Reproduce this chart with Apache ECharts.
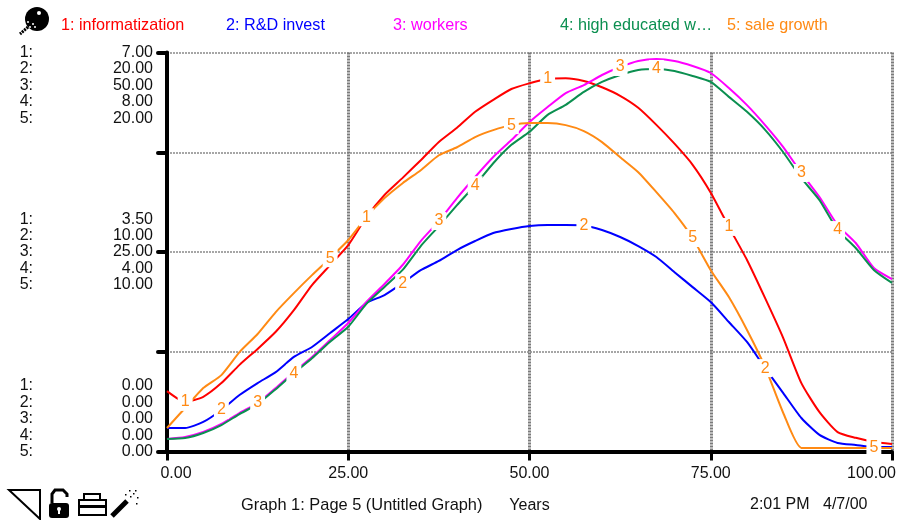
<!DOCTYPE html>
<html><head><meta charset="utf-8">
<style>html,body{margin:0;padding:0;background:#fff}#c{width:898px;height:520px}</style>
<script src="https://cdn.jsdelivr.net/npm/echarts@6/dist/echarts.min.js"></script>
</head><body><div id="c"></div>
<script>
const years=[0,2.5,5,7.5,10,12.5,15,17.5,20,22.5,25,27.5,30,32.5,35,37.5,40,42.5,45,47.5,50,52.5,55,57.5,60,62.5,65,67.5,70,72.5,75,77.5,80,82.5,85,87.5,90,92.5,95,97.5,100];
const informatization=[1.06,.87,.96,1.20,1.52,1.80,2.10,2.48,2.92,3.27,3.62,4.11,4.50,4.80,5.11,5.43,5.68,5.96,6.17,6.36,6.46,6.54,6.55,6.50,6.39,6.24,6.03,5.73,5.40,5.03,4.54,3.94,3.36,2.69,1.99,1.20,.69,.34,.24,.17,.13];
const rdInvest=[1.18,1.18,1.48,2.08,2.83,3.43,3.98,4.74,5.24,5.94,6.64,7.44,7.84,8.44,9.09,9.55,10.10,10.55,10.95,11.15,11.30,11.35,11.35,11.33,11.10,10.75,10.30,9.75,8.99,8.24,7.49,6.49,5.49,4.18,2.93,1.68,.83,.43,.33,.23,.23];
const workers=[1.57,1.82,2.44,3.45,4.82,6.08,7.96,9.96,11.84,13.97,16.10,18.73,20.99,23.37,26.37,28.88,31.76,34.40,36.90,39.03,41.29,43.17,44.92,45.92,47.18,48.18,48.93,49.18,48.93,48.30,47.43,45.55,43.41,40.91,38.15,34.90,31.89,28.38,26.13,22.99,21.61];
const highEducated=[.25,.27,.37,.53,.75,.95,1.25,1.57,1.87,2.20,2.50,2.96,3.30,3.64,4.12,4.52,4.94,5.34,5.78,6.15,6.41,6.75,6.95,7.21,7.41,7.55,7.65,7.67,7.63,7.53,7.41,7.11,6.81,6.45,6.00,5.48,5.04,4.44,4.08,3.64,3.38];
const saleGrowth=[1.18,2.18,3.18,3.83,4.98,5.89,6.99,7.94,8.84,9.69,10.60,11.75,12.70,13.45,14.10,14.85,15.25,15.76,16.11,16.36,16.46,16.46,16.36,16.06,15.51,14.75,14.00,13.00,11.95,10.70,9.09,7.74,6.09,4.23,1.93,.18,.18,.18,.18,.18,.18];
const names=['1: informatization','2: R&D invest','3: workers','4: high educated w\u2026','5: sale growth'];
const colors=['#ff0000','#0000ff','#ff00ff','#0b8f50','#ff8a14'];
const scaleMax=[7,20,50,8,20];
const labelYears=[[2.5,27.5,52.5,77.5],[7.5,32.5,57.5,82.5],[12.5,37.5,62.5,87.5],[17.5,42.5,67.5,92.5],[22.5,47.5,72.5,97.5]];
const legendLeft=[56,221,388,555,722];
const prefixes=['1:','2:','3:','4:','5:'];
const footerLeft='Graph 1: Page 5 (Untitled Graph)';
const footerTime='2:01 PM';
const footerDate='4/7/00';
const seriesValues=[informatization,rdInvest,workers,highEducated,saleGrowth];
const FONT='"Liberation Sans",Arial,sans-serif';
const BLANK=' \n \n \n \n';

function group(lines,f){
  const t=lines.join('\n');
  if(f>.9) return BLANK+t;      // first line sits on the top tick
  if(f<.1) return t+'\n \n \n \n ';  // last line sits on the bottom tick
  return t;
}
const yAxes=scaleMax.map((m,i)=>({
  type:'value',min:0,max:m,interval:m/4,position:'left',
  axisLine:{show:i===0,onZero:false,lineStyle:{color:'#000',width:4}},
  axisTick:{show:i===0,length:9,lineStyle:{color:'#000',width:4,cap:'round'}},
  splitLine:{show:i===0,lineStyle:{color:'#a6a6a6',width:2,type:[2,1]}},
  axisLabel:{
    show:i<2,hideOverlap:false,showMinLabel:true,showMaxLabel:true,
    margin:i===0?14:134,color:'#111',fontFamily:FONT,fontSize:16,lineHeight:16.4,align:'right',
    formatter:v=>{
      const f=v/m;
      if(Math.abs(f-.25)<1e-6||Math.abs(f-.75)<1e-6) return '';
      return group(i===0?scaleMax.map(x=>(x*f).toFixed(2)):prefixes,f);
    }
  }
}));
const lineSeries=seriesValues.map((vals,i)=>({
  type:'line',name:names[i],yAxisIndex:i,showSymbol:false,symbol:'none',z:3,smooth:0.2,
  lineStyle:{color:colors[i],width:2},itemStyle:{color:colors[i]},
  data:years.map((t,k)=>[t,vals[k]]),silent:true,animation:false
}));
const markSeries=seriesValues.map((vals,i)=>({
  type:'scatter',yAxisIndex:i,symbolSize:1,z:6,silent:true,animation:false,
  itemStyle:{color:'#fff',opacity:1},
  data:labelYears[i].map(t=>[t,vals[years.indexOf(t)]]),
  label:{show:true,position:'inside',formatter:String(i+1),color:'#ff8a14',fontFamily:FONT,fontSize:16,opacity:1,
    backgroundColor:'#fff',padding:[1,3,1,3]}
}));
function txt(x,y,s,size){return {type:'text',left:x,top:y,style:{text:s,font:(size||16)+'px '+FONT,fill:'#111'}};}
const K={fill:'#000'};
const icons=[
 {type:'circle',shape:{cx:37,cy:19,r:12},style:K},
 {type:'line',shape:{x1:28,y1:27,x2:20,y2:34},style:{stroke:'#000',lineWidth:3,lineDash:[2,1]}},
 ...[[39,13,2],[28,22,1],[33,24,1],[30,27,1],[35,27,1]].map(d=>({type:'circle',shape:{cx:d[0],cy:d[1],r:d[2]},style:{fill:'#fff'}})),
 {type:'polygon',shape:{points:[[9,490],[40,490],[40,519]]},style:{fill:'none',stroke:'#000',lineWidth:2}},
 {type:'rect',shape:{x:49,y:503,width:20,height:15,r:3},style:K},
 {type:'circle',shape:{cx:59,cy:509,r:2},style:{fill:'#fff'}},
 {type:'rect',shape:{x:58,y:510,width:2,height:4},style:{fill:'#fff'}},
 {type:'polyline',shape:{points:[[52,503],[52,494],[55,490],[63,490],[67,494],[67,497]]},style:{fill:'none',stroke:'#000',lineWidth:3}},
 {type:'rect',shape:{x:84,y:494,width:16,height:6},style:{fill:'#fff',stroke:'#000',lineWidth:2}},
 {type:'rect',shape:{x:79,y:500,width:27,height:15},style:{fill:'#fff',stroke:'#000',lineWidth:2}},
 {type:'rect',shape:{x:79,y:505,width:27,height:3},style:K},
 {type:'line',shape:{x1:112,y1:516,x2:127,y2:501},style:{stroke:'#000',lineWidth:5}},
 ...[[130,496],[135,490],[129,490],[137,497],[133,493],[125,494],[136,503]].map(d=>({type:'rect',shape:{x:d[0],y:d[1],width:1.5,height:1.5},style:K})),
 txt(241,497,footerLeft,16.4),txt(750,497,footerTime),txt(823,497,footerDate)
];
const chart=echarts.init(document.getElementById('c'),null,{renderer:'canvas'});
chart.setOption({
  animation:false,backgroundColor:'#fff',
  grid:{left:167,right:6,top:52.5,bottom:68.5,containLabel:false,outerBoundsMode:'none'},
  legend:names.map((n,i)=>({data:[{name:n,icon:'none'}],left:legendLeft[i],top:18,itemWidth:0,itemHeight:0,padding:0,selectedMode:false,
    textStyle:{color:colors[i],fontFamily:FONT,fontSize:16.2}})),
  xAxis:{type:'value',min:0,max:100,interval:25,name:'Years',nameLocation:'middle',nameGap:46,
    nameTextStyle:{color:'#111',fontFamily:FONT,fontSize:16},
    axisLine:{onZero:false,lineStyle:{color:'#000',width:4}},
    axisTick:{length:9,lineStyle:{color:'#000',width:3}},
    splitLine:{lineStyle:{color:'#7a7a7a',width:3,type:[2,1]}},
    axisLabel:{margin:14,color:'#111',fontFamily:FONT,fontSize:16,hideOverlap:false,showMinLabel:true,showMaxLabel:true,
      formatter:v=>{const s=v.toFixed(2);return v===0?'{a|'+s+'}':v===100?'{b|'+s+'}':s;},
      rich:{a:{padding:[0,0,0,18],fontSize:16,fontFamily:FONT,color:'#111'},b:{padding:[0,41,0,0],fontSize:16,fontFamily:FONT,color:'#111'}}}},
  yAxis:yAxes,
  series:[...lineSeries,...markSeries],
  graphic:{elements:icons}
});
</script></body></html>
